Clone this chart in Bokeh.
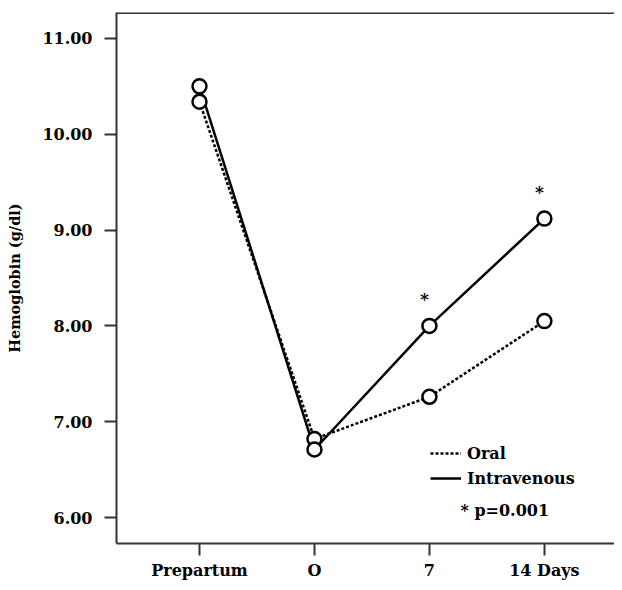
from bokeh.plotting import figure
from bokeh.models import (FixedTicker, Range1d, Legend, LegendItem, Label, Span,
                          ColumnDataSource)
from bokeh.core.properties import value
from bokeh.embed import file_html
from bokeh.resources import INLINE

# ---- data ----
categories = ["Prepartum", "O", "7", "14 Days"]
x_pos = [0, 1, 2, 3]
oral = [10.34, 6.82, 7.26, 8.05]
intravenous = [10.50, 6.71, 8.00, 9.12]
significance = ["", "", "*", "*"]
y_ticks = [6, 7, 8, 9, 10, 11]
y_tick_labels = ["6.00", "7.00", "8.00", "9.00", "10.00", "11.00"]

FONT = "DejaVu Serif"
INK = "#000000"
AXIS = "#333333"

p = figure(width=614, height=582, output_backend="svg", toolbar_location=None,
           x_range=Range1d(-0.722, 3.61), y_range=Range1d(5.729, 11.271),
           min_border_left=116, min_border_right=0, min_border_top=12,
           min_border_bottom=39)
p.outline_line_color = None
p.xgrid.visible = False
p.ygrid.visible = False
p.background_fill_color = "white"

# axes
p.xaxis.ticker = FixedTicker(ticks=x_pos)
p.xaxis.major_label_overrides = {x: c for x, c in zip(x_pos, categories)}
p.yaxis.ticker = FixedTicker(ticks=y_ticks)
p.yaxis.major_label_overrides = {t: l for t, l in zip(y_ticks, y_tick_labels)}
for ax in (p.xaxis[0], p.yaxis[0]):
    ax.axis_line_color = AXIS
    ax.axis_line_width = 2
    ax.major_tick_line_color = AXIS
    ax.major_tick_line_width = 2
    ax.major_tick_out = 12
    ax.major_tick_in = 0
    ax.minor_tick_line_color = None
    ax.major_label_text_font = FONT
    ax.major_label_text_font_style = "bold"
    ax.major_label_text_font_size = "16px"
    ax.major_label_text_color = INK
p.xaxis.major_label_standoff = 5
p.yaxis.major_label_standoff = 12
p.yaxis.axis_label = "Hemoglobin (g/dl)"
p.yaxis.axis_label_text_font = FONT
p.yaxis.axis_label_text_font_style = "bold"
p.yaxis.axis_label_text_font_size = "14.5px"
p.yaxis.axis_label_text_color = INK
p.yaxis.axis_label_standoff = 16

# top border
p.add_layout(Span(location=11.271, dimension="width", line_color=AXIS, line_width=3))

src = ColumnDataSource(dict(x=x_pos, oral=oral, iv=intravenous, sig=significance))

r_oral = p.line("x", "oral", source=src, line_color=INK, line_width=2.5, line_dash="3 2")
r_iv = p.line("x", "iv", source=src, line_color=INK, line_width=2.5)
p.scatter("x", "oral", source=src, size=14, fill_color="white", line_color=INK, line_width=2.5)
p.scatter("x", "iv", source=src, size=14, fill_color="white", line_color=INK, line_width=2.5)

p.text("x", "iv", text="sig", source=src, x_offset=-5, y_offset=-27,
       text_font=value(FONT), text_font_style="bold", text_font_size="17px",
       text_align="center", text_baseline="middle", text_color=INK)

legend = Legend(items=[LegendItem(label="Oral", renderers=[r_oral]),
                       LegendItem(label="Intravenous", renderers=[r_iv])],
                location=(314, 55), padding=0, margin=0, spacing=5,
                glyph_width=31, glyph_height=20, label_height=20, label_standoff=6,
                border_line_color=None, background_fill_alpha=0,
                label_text_font=FONT, label_text_font_style="bold",
                label_text_font_size="16px", label_text_color=INK)
p.add_layout(legend)

p.add_layout(Label(x=2.27, y=6.07, text="* p=0.001", text_font=FONT,
                   text_font_style="bold", text_font_size="16px",
                   text_baseline="middle", text_color=INK))

open("out.html", "w").write(file_html(p, INLINE))
